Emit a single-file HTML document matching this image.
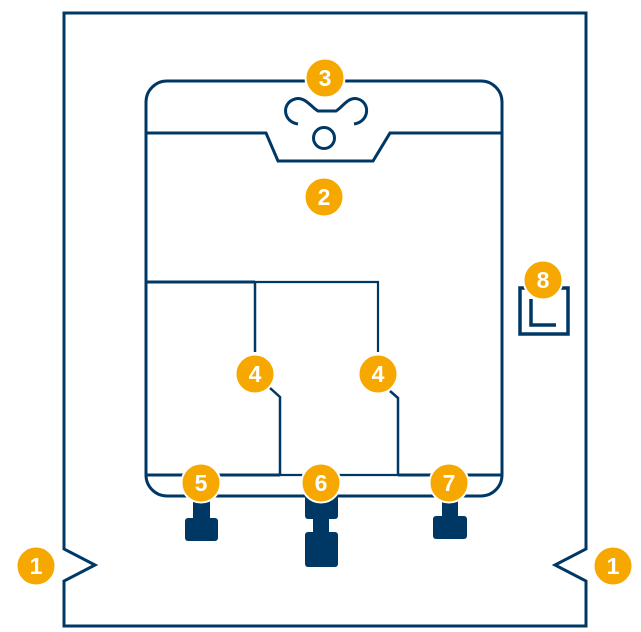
<!DOCTYPE html>
<html><head><meta charset="utf-8"><style>
html,body{margin:0;padding:0;background:#fff;}
svg{display:block;}
text{font-family:"Liberation Sans",sans-serif;font-weight:bold;fill:#fff;font-size:23px;text-anchor:middle;}
</style></head><body>
<svg width="641" height="632" viewBox="0 0 641 632" xmlns="http://www.w3.org/2000/svg">
<g fill="none" stroke="#003865" stroke-linejoin="miter">
<!-- outer frame -->
<path d="M64 549 L64 13 L586 13 L586 549 L555 565 L586 581 L586 626 L64 626 L64 581 L95 565 Z" stroke-width="3"/>
<!-- inner rounded box -->
<rect x="146" y="81" width="356" height="415" rx="21" ry="21" stroke-width="3"/>
<!-- top separator with notch -->
<path d="M146 133 L266 133 L278 161 L373 161 L390 133 L502 133" stroke-width="3"/>
<!-- wave icon -->
<path d="M298 124 C283 122 281 103 295 99 C305 96 312 108 318 111 L336 111 C342 108 348 96 358 99 C371 103 369 122 354 124" stroke-width="3"/>
<circle cx="324" cy="138" r="10.5" stroke-width="3"/>
<!-- partitions -->
<path d="M146 282 L255 282" stroke-width="3"/>
<path d="M255 282 L378 282 L378 352" stroke-width="2.2"/>
<path d="M255 282 L255 352" stroke-width="2.5"/>
<path d="M270 388 L280 397 L280 475" stroke-width="2.5"/>
<path d="M390 391 L398 398 L398 475" stroke-width="2.5"/>
<path d="M146 475 L280 475" stroke-width="3"/>
<path d="M280 475 L398 475" stroke-width="2.2"/>
<path d="M398 475 L502 475" stroke-width="3"/>
<!-- item 8 icon -->
<rect x="520" y="288" width="48" height="46" stroke-width="3.5"/>
<path d="M531 299 L531 325 L556 325" stroke-width="3.5"/>
</g>
<!-- feet -->
<g fill="#003865">
<rect x="193" y="492" width="17" height="30"/>
<rect x="185" y="518" width="33" height="23" rx="3"/>
<rect x="305" y="490" width="33" height="29" rx="3"/>
<rect x="313" y="515" width="16" height="20"/>
<rect x="305" y="532" width="33" height="35" rx="3"/>
<rect x="442" y="492" width="16" height="28"/>
<rect x="433" y="516" width="34" height="23" rx="3"/>
</g>
<!-- badges -->
<g fill="#f6a800" stroke="#fff" stroke-width="2">
<circle cx="36" cy="566" r="19.5"/>
<circle cx="613" cy="566" r="19.5"/>
<circle cx="324" cy="197" r="19.5"/>
<circle cx="325" cy="78" r="19.5"/>
<circle cx="255" cy="374" r="19.5"/>
<circle cx="378" cy="374" r="19.5"/>
<circle cx="201" cy="483" r="19.5"/>
<circle cx="321" cy="483" r="19.5"/>
<circle cx="449" cy="483" r="19.5"/>
<circle cx="543" cy="280" r="19.5"/>
</g>
<text x="36" y="574">1</text>
<text x="613" y="574">1</text>
<text x="324" y="205">2</text>
<text x="325" y="86">3</text>
<text x="255" y="382">4</text>
<text x="378" y="382">4</text>
<text x="201" y="491">5</text>
<text x="321" y="491">6</text>
<text x="449" y="491">7</text>
<text x="543" y="288">8</text>
</svg>
</body></html>
